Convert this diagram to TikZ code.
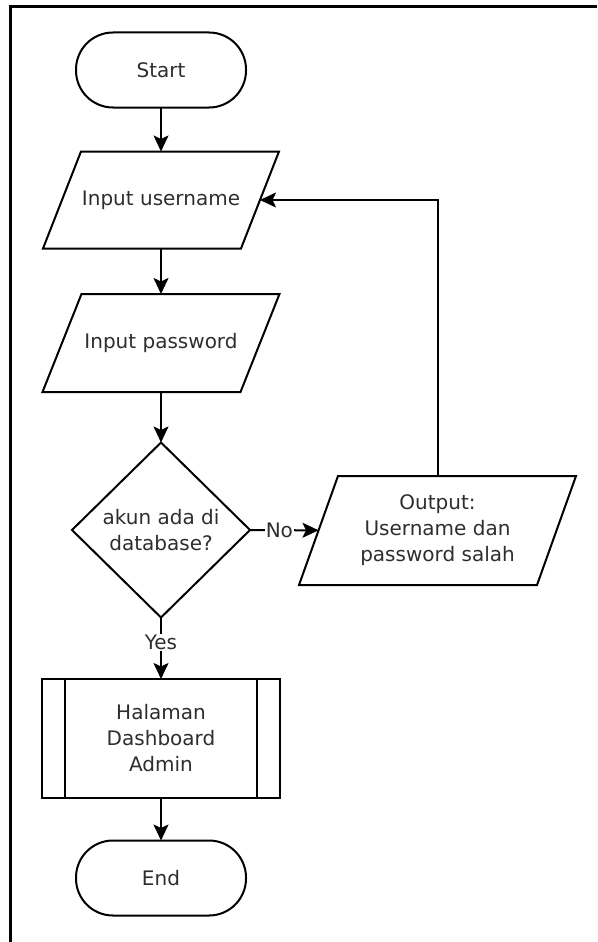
\documentclass[tikz,border=0pt]{standalone}
\usepackage{fontspec}
\setmainfont{DejaVu Sans}
\usetikzlibrary{shapes.geometric,arrows.meta}
\begin{document}
\begin{tikzpicture}[x=1pt,y=-1pt,
  every node/.style={font=\fontsize{20}{26}\selectfont, text=black!82},
  box/.style={draw=black, line width=2pt, fill=white, align=center, inner sep=0pt, outer sep=0pt},
  term/.style={box, rectangle, rounded corners=37pt, minimum width=170pt, minimum height=75pt},
  io/.style={box, draw=none, fill=none, rectangle},
  edge/.style={draw=black, line width=2pt, line join=miter},
  decision/.style={box, diamond, aspect=1, minimum width=178pt, minimum height=175pt},
  proc/.style={box, rectangle, minimum width=238pt, minimum height=119pt},
  arr/.style={draw=black, line width=2pt, -{Stealth[length=16pt,width=15pt,inset=3.5pt]}},
  lbl/.style={fill=white, inner sep=1pt}
]
\useasboundingbox (0,0) rectangle (597,942);
% page frame (left and top edges)
\draw[line width=2.4pt] (10.5,942) -- (10.5,6.5) -- (597,6.5);

% flowchart nodes; parallelograms are outlined around their named nodes
\node[term] (start) at (161,70) {Start};

\node[io, minimum width=198pt, minimum height=97pt] (user) at (161,200) {Input username};
\draw[edge] ([xshift=19pt]user.north west) -- ([xshift=19pt]user.north east)
  -- ([xshift=-19pt]user.south east) -- ([xshift=-19pt]user.south west) -- cycle;

\node[io, minimum width=198pt, minimum height=98pt] (pass) at (161,343) {Input password};
\draw[edge] ([xshift=19.5pt]pass.north west) -- ([xshift=19.5pt]pass.north east)
  -- ([xshift=-19.5pt]pass.south east) -- ([xshift=-19.5pt]pass.south west) -- cycle;

\node[decision] (check) at (161,530) {akun ada di\\database?};

\node[io, minimum width=238pt, minimum height=109pt] (fail) at (437.5,530.5)
      {Output:\\Username dan\\password salah};
\draw[edge] ([xshift=19.5pt]fail.north west) -- ([xshift=19.5pt]fail.north east)
  -- ([xshift=-19.5pt]fail.south east) -- ([xshift=-19.5pt]fail.south west) -- cycle;

\node[proc] (dash) at (161,738.5) {Halaman\\Dashboard\\Admin};
\draw[edge] ([xshift=23pt]dash.north west) -- ([xshift=23pt]dash.south west);
\draw[edge] ([xshift=-23pt]dash.north east) -- ([xshift=-23pt]dash.south east);

\node[term] (stop) at (161,878) {End};

% connectors
\draw[arr] (start) -- (user);
\draw[arr] (user) -- (pass);
\draw[arr] (pass) -- (check);
\draw[arr] (check) -- node[lbl, pos=0.43] {No} (fail);
\draw[arr] (check) -- node[lbl, pos=0.41] {Yes} (dash);
\draw[arr] (dash) -- (stop);
\draw[arr] (fail) |- (user);
\end{tikzpicture}
\end{document}
